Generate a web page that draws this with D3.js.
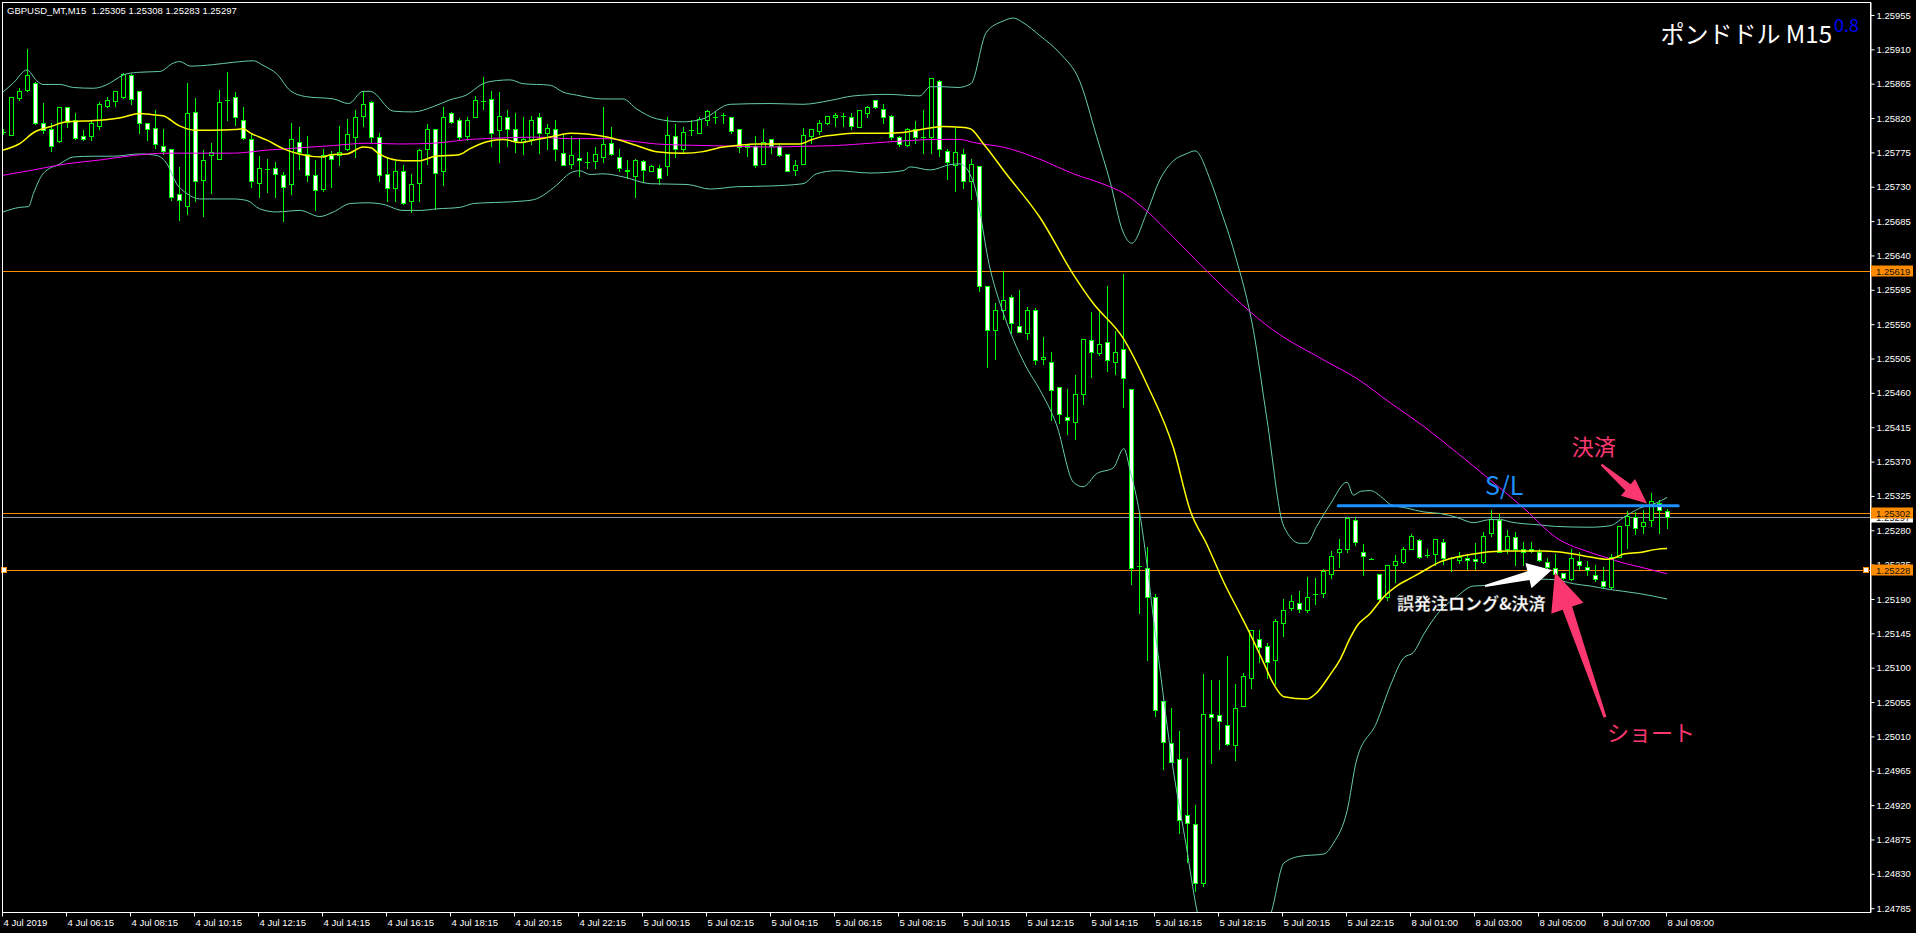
<!DOCTYPE html>
<html><head><meta charset="utf-8">
<script src="https://cdn.jsdelivr.net/npm/d3@7"></script>
<style>html,body{margin:0;padding:0;background:#000;overflow:hidden}</style>
</head><body>
<svg id="c" width="1916" height="933"></svg>
<script>
// ---------------- DATA ----------------
const symbolHeader = "GBPUSD_MT,M15  1.25305 1.25308 1.25283 1.25297";
const chartTitle = "ポンドドル M15";
const titleSup = "0.8";

const timeLabels = ["4 Jul 2019","4 Jul 06:15","4 Jul 08:15","4 Jul 10:15","4 Jul 12:15","4 Jul 14:15","4 Jul 16:15","4 Jul 18:15","4 Jul 20:15","4 Jul 22:15",
  "5 Jul 00:15","5 Jul 02:15","5 Jul 04:15","5 Jul 06:15","5 Jul 08:15","5 Jul 10:15","5 Jul 12:15","5 Jul 14:15","5 Jul 16:15","5 Jul 18:15","5 Jul 20:15","5 Jul 22:15",
  "8 Jul 01:00","8 Jul 03:00","8 Jul 05:00","8 Jul 07:00","8 Jul 09:00"];
const labelBars = [0,8,16,24,32,40,48,56,64,72,80,88,96,104,112,120,128,136,144,152,160,168,176,184,192,200,208];

const priceTicks = [1.24785,1.24830,1.24875,1.24920,1.24965,1.25010,1.25055,1.25100,1.25145,1.25190,1.25235,1.25280,1.25325,1.25370,
  1.25415,1.25460,1.25505,1.25550,1.25595,1.25640,1.25685,1.25730,1.25775,1.25820,1.25865,1.25910,1.25955];

const open = [
1.25802,1.25798,1.25846,1.25857,1.25866,1.25814,1.25805,1.25790,1.25834,1.25818,
1.25796,1.25797,1.25809,1.25836,1.25842,1.25848,1.25877,1.25856,1.25813,1.25807,
1.25784,1.25779,1.25720,1.25705,1.25828,1.25739,1.25771,1.25767,1.25844,1.25847,
1.25818,1.25792,1.25735,1.25753,1.25754,1.25745,1.25733,1.25789,1.25773,1.25745,
1.25727,1.25772,1.25772,1.25779,1.25795,1.25823,1.25841,1.25795,1.25747,1.25729,
1.25750,1.25711,1.25735,1.25779,1.25806,1.25750,1.25826,1.25817,1.25797,1.25821,
1.25842,1.25845,1.25804,1.25822,1.25805,1.25789,1.25792,1.25821,1.25801,1.25806,
1.25774,1.25760,1.25768,1.25763,1.25764,1.25769,1.25787,1.25769,1.25752,1.25744,
1.25764,1.25751,1.25754,1.25757,1.25797,1.25779,1.25804,1.25800,1.25818,1.25821,
1.25824,1.25821,1.25805,1.25782,1.25784,1.25760,1.25792,1.25784,1.25773,1.25752,
1.25760,1.25796,1.25803,1.25813,1.25821,1.25823,1.25822,1.25808,1.25827,1.25843,
1.25832,1.25823,1.25795,1.25785,1.25805,1.25795,1.25795,1.25869,1.25777,1.25758,
1.25773,1.25737,1.25757,1.25600,1.25543,1.25569,1.25585,1.25547,1.25538,1.25569,
1.25504,1.25501,1.25468,1.25429,1.25422,1.25458,1.25529,1.25512,1.25527,1.25501,
1.25518,1.25465,1.25233,1.25231,1.25192,1.25056,1.25002,1.24980,1.24907,1.24895,
1.24818,1.25040,1.25038,1.25025,1.24999,1.25050,1.25086,1.25137,1.25129,1.25110,
1.25159,1.25178,1.25185,1.25176,1.25197,1.25198,1.25223,1.25252,1.25255,1.25294,
1.25251,1.25243,1.25223,1.25192,1.25235,1.25239,1.25256,1.25267,1.25247,1.25249,
1.25265,1.25244,1.25241,1.25244,1.25243,1.25239,1.25276,1.25294,1.25255,1.25271,
1.25256,1.25255,1.25252,1.25239,1.25230,1.25224,1.25216,1.25240,1.25232,1.25222,
1.25213,1.25206,1.25245,1.25287,1.25297,1.25285,1.25294,1.25316,1.25305];
const high = [
1.25805,1.25848,1.25860,1.25910,1.25867,1.25840,1.25814,1.25835,1.25835,1.25826,
1.25804,1.25818,1.25841,1.25848,1.25856,1.25879,1.25878,1.25856,1.25813,1.25830,
1.25805,1.25779,1.25756,1.25866,1.25846,1.25778,1.25787,1.25857,1.25880,1.25854,
1.25834,1.25800,1.25770,1.25767,1.25762,1.25749,1.25813,1.25808,1.25797,1.25765,
1.25780,1.25777,1.25810,1.25819,1.25830,1.25855,1.25842,1.25801,1.25769,1.25766,
1.25759,1.25747,1.25780,1.25812,1.25806,1.25835,1.25828,1.25820,1.25821,1.25849,
1.25874,1.25856,1.25854,1.25830,1.25826,1.25822,1.25823,1.25826,1.25812,1.25818,
1.25798,1.25797,1.25794,1.25775,1.25782,1.25834,1.25808,1.25779,1.25765,1.25767,
1.25765,1.25758,1.25758,1.25822,1.25812,1.25808,1.25818,1.25822,1.25830,1.25829,
1.25826,1.25822,1.25806,1.25785,1.25796,1.25806,1.25792,1.25787,1.25773,1.25765,
1.25807,1.25805,1.25818,1.25823,1.25827,1.25827,1.25826,1.25830,1.25836,1.25844,
1.25839,1.25824,1.25796,1.25807,1.25816,1.25830,1.25873,1.25870,1.25780,1.25807,
1.25779,1.25767,1.25757,1.25600,1.25578,1.25620,1.25588,1.25595,1.25572,1.25571,
1.25533,1.25514,1.25468,1.25465,1.25483,1.25531,1.25566,1.25566,1.25600,1.25541,
1.25616,1.25465,1.25301,1.25258,1.25196,1.25056,1.25047,1.25017,1.24982,1.24920,
1.25092,1.25084,1.25084,1.25115,1.25079,1.25093,1.25150,1.25150,1.25132,1.25164,
1.25190,1.25195,1.25200,1.25219,1.25218,1.25229,1.25253,1.25268,1.25297,1.25297,
1.25262,1.25244,1.25223,1.25234,1.25248,1.25258,1.25275,1.25268,1.25256,1.25269,
1.25268,1.25245,1.25251,1.25249,1.25263,1.25278,1.25306,1.25301,1.25280,1.25278,
1.25265,1.25265,1.25256,1.25244,1.25249,1.25224,1.25256,1.25251,1.25240,1.25235,
1.25232,1.25249,1.25286,1.25305,1.25304,1.25307,1.25329,1.25320,1.25308];
const low = [
1.25799,1.25798,1.25843,1.25856,1.25812,1.25800,1.25777,1.25789,1.25808,1.25792,
1.25791,1.25791,1.25806,1.25835,1.25836,1.25846,1.25839,1.25800,1.25791,1.25781,
1.25773,1.25713,1.25687,1.25694,1.25711,1.25692,1.25722,1.25766,1.25818,1.25811,
1.25793,1.25730,1.25717,1.25723,1.25716,1.25685,1.25720,1.25753,1.25738,1.25699,
1.25724,1.25730,1.25758,1.25778,1.25769,1.25809,1.25789,1.25737,1.25711,1.25711,
1.25708,1.25697,1.25711,1.25760,1.25701,1.25732,1.25814,1.25791,1.25791,1.25821,
1.25832,1.25784,1.25763,1.25784,1.25775,1.25773,1.25786,1.25774,1.25779,1.25765,
1.25758,1.25755,1.25744,1.25754,1.25754,1.25762,1.25771,1.25750,1.25741,1.25716,
1.25736,1.25750,1.25733,1.25745,1.25769,1.25775,1.25798,1.25800,1.25811,1.25814,
1.25814,1.25801,1.25775,1.25770,1.25756,1.25760,1.25774,1.25770,1.25750,1.25746,
1.25760,1.25787,1.25799,1.25812,1.25810,1.25810,1.25805,1.25808,1.25822,1.25833,
1.25814,1.25793,1.25784,1.25784,1.25787,1.25774,1.25774,1.25770,1.25740,1.25724,
1.25729,1.25714,1.25594,1.25494,1.25504,1.25557,1.25538,1.25540,1.25530,1.25498,
1.25498,1.25424,1.25420,1.25406,1.25399,1.25446,1.25481,1.25509,1.25488,1.25485,
1.25441,1.25209,1.25172,1.25110,1.25037,1.24967,1.24977,1.24884,1.24845,1.24808,
1.24814,1.24975,1.24994,1.24999,1.24979,1.25050,1.25074,1.25108,1.25086,1.25079,
1.25142,1.25176,1.25173,1.25173,1.25183,1.25193,1.25218,1.25232,1.25252,1.25261,
1.25222,1.25242,1.25188,1.25189,1.25212,1.25237,1.25256,1.25244,1.25245,1.25234,
1.25236,1.25227,1.25237,1.25229,1.25229,1.25237,1.25273,1.25252,1.25250,1.25234,
1.25234,1.25251,1.25240,1.25228,1.25212,1.25216,1.25215,1.25229,1.25222,1.25213,
1.25205,1.25203,1.25245,1.25257,1.25275,1.25276,1.25286,1.25276,1.25283];
const close = [
1.25802,1.25847,1.25855,1.25876,1.25813,1.25804,1.25784,1.25834,1.25815,1.25794,
1.25792,1.25814,1.25839,1.25844,1.25855,1.25878,1.25845,1.25813,1.25805,1.25786,
1.25777,1.25717,1.25713,1.25826,1.25737,1.25765,1.25776,1.25841,1.25844,1.25821,
1.25794,1.25738,1.25754,1.25753,1.25747,1.25730,1.25792,1.25775,1.25745,1.25726,
1.25771,1.25766,1.25776,1.25799,1.25822,1.25839,1.25795,1.25745,1.25729,1.25750,
1.25709,1.25734,1.25778,1.25805,1.25748,1.25821,1.25815,1.25795,1.25818,1.25843,
1.25842,1.25800,1.25823,1.25805,1.25790,1.25793,1.25818,1.25801,1.25807,1.25779,
1.25758,1.25771,1.25765,1.25763,1.25773,1.25786,1.25773,1.25754,1.25750,1.25765,
1.25752,1.25757,1.25741,1.25798,1.25779,1.25802,1.25804,1.25819,1.25829,1.25821,
1.25824,1.25803,1.25782,1.25785,1.25758,1.25789,1.25784,1.25772,1.25751,1.25759,
1.25798,1.25805,1.25814,1.25823,1.25824,1.25823,1.25810,1.25830,1.25834,1.25834,
1.25821,1.25795,1.25786,1.25805,1.25795,1.25795,1.25873,1.25780,1.25763,1.25775,
1.25737,1.25760,1.25600,1.25543,1.25569,1.25581,1.25551,1.25540,1.25569,1.25503,
1.25507,1.25464,1.25432,1.25424,1.25459,1.25531,1.25514,1.25524,1.25503,1.25514,
1.25479,1.25231,1.25233,1.25193,1.25045,1.25003,1.24977,1.24901,1.24897,1.24818,
1.25039,1.25035,1.25030,1.25000,1.25047,1.25089,1.25149,1.25127,1.25108,1.25161,
1.25176,1.25187,1.25177,1.25193,1.25197,1.25227,1.25246,1.25256,1.25296,1.25265,
1.25246,1.25243,1.25190,1.25234,1.25240,1.25256,1.25273,1.25245,1.25247,1.25268,
1.25244,1.25244,1.25245,1.25241,1.25240,1.25272,1.25295,1.25252,1.25273,1.25255,
1.25252,1.25253,1.25241,1.25232,1.25223,1.25218,1.25244,1.25235,1.25228,1.25216,
1.25207,1.25245,1.25286,1.25299,1.25283,1.25291,1.25318,1.25307,1.25297];

// indicator lines: [bar index, price]
const maFast = [[0,1.25778],[2,1.25786],[4,1.25802],[6,1.25809],[8,1.25815],[10,1.25816],[12,1.25817],[15,1.25821],[17,1.25826],[19,1.25824],[20,1.25823],[22,1.25810],[24,1.25804],[26,1.25804],[29,1.25805],[30,1.25806],[31,1.25800],[33,1.25791],[35,1.25780],[37,1.25773],[40,1.25769],[41,1.25772],[43,1.25773],[45,1.25782],[46,1.25781],[47,1.25773],[50,1.25764],[52,1.25764],[54,1.25770],[57,1.25772],[58.4,1.25780],[60.5,1.25789],[62.5,1.25792],[64.6,1.25788],[66.7,1.25792],[68.8,1.25796],[70.9,1.25800],[73,1.25799],[75,1.25796],[77.1,1.25791],[79.2,1.25784],[81.7,1.25776],[85,1.25774],[87.5,1.25776],[90,1.25782],[91.7,1.25784],[94.2,1.25786],[98,1.25786],[99.6,1.25786],[100.9,1.25791],[102.5,1.25796],[104.2,1.25798],[106.3,1.25800],[108.4,1.25800],[110.5,1.25800],[112.5,1.25801],[114.2,1.25804],[115.9,1.25807],[117.5,1.25809],[119.6,1.25808],[120.9,1.25806],[122.5,1.25787],[125.4,1.25747],[129.6,1.25690],[133.8,1.25615],[136.3,1.25577],[140,1.25532],[143,1.25471],[146.3,1.25388],[148.4,1.25306],[150.5,1.25261],[152.6,1.25212],[154.7,1.25169],[155.9,1.25144],[157.6,1.25106],[158.8,1.25079],[160.1,1.25062],[163,1.25059],[164.2,1.25067],[165.9,1.25091],[167.1,1.25110],[168.4,1.25139],[169.2,1.25154],[170.9,1.25171],[172.6,1.25193],[174.2,1.25207],[175.9,1.25217],[177.6,1.25227],[179.7,1.25239],[181.7,1.25245],[183.8,1.25249],[185.9,1.25252],[188,1.25253],[190.1,1.25253],[192.6,1.25253],[194.2,1.25252],[196.3,1.25249],[198.4,1.25245],[200.5,1.25242],[201.7,1.25245],[202.6,1.25249],[204.6,1.25251],[206.7,1.25255],[208,1.25256]];
const maSlow = [[0,1.25745],[3.8,1.25752],[7.9,1.25760],[12.1,1.25765],[16.3,1.25771],[20.5,1.25774],[24.6,1.25774],[28.8,1.25774],[33,1.25778],[37.1,1.25781],[41.3,1.25784],[45.5,1.25787],[49.6,1.25786],[53.8,1.25787],[58.4,1.25792],[62.5,1.25794],[66.7,1.25795],[70.9,1.25793],[75,1.25793],[79.2,1.25789],[81.7,1.25786],[87.5,1.25784],[91.7,1.25783],[95.9,1.25782],[100,1.25783],[104.2,1.25784],[108.4,1.25787],[112.5,1.25790],[116.7,1.25792],[119.6,1.25792],[121.3,1.25788],[125.4,1.25781],[129.6,1.25766],[133.8,1.25747],[137.9,1.25732],[140,1.25722],[143,1.25698],[146.3,1.25664],[150.9,1.25615],[158.8,1.25542],[165.1,1.25503],[169.2,1.25479],[173.4,1.25447],[177.6,1.25416],[181.7,1.25382],[185.9,1.25346],[190.1,1.25309],[194.2,1.25270],[198.4,1.25251],[200.5,1.25244],[202.6,1.25237],[204.6,1.25232],[208,1.25223]];
const bbUpper = [[0,1.25854],[1.3,1.25866],[3,1.25883],[4.2,1.25869],[5,1.25864],[7.1,1.25864],[8.8,1.25860],[11.3,1.25859],[13.4,1.25866],[14.6,1.25874],[15.5,1.25878],[17.1,1.25880],[19.6,1.25881],[21.3,1.25892],[22.1,1.25894],[23.4,1.25888],[26.3,1.25890],[28.8,1.25893],[31.3,1.25895],[32.5,1.25889],[34.2,1.25878],[35.9,1.25856],[37.9,1.25848],[41.3,1.25845],[43.2,1.25839],[45,1.25855],[45.9,1.25855],[48.8,1.25829],[51.3,1.25828],[53.8,1.25835],[55.9,1.25844],[57.9,1.25850],[60,1.25865],[61.7,1.25869],[63.4,1.25870],[65,1.25865],[68.4,1.25863],[70,1.25854],[71.7,1.25850],[75,1.25845],[77.5,1.25845],[79.2,1.25832],[81.7,1.25819],[85,1.25815],[87.5,1.25819],[90.9,1.25838],[95.9,1.25839],[100,1.25838],[103.4,1.25843],[106.3,1.25849],[110.5,1.25851],[114.6,1.25849],[115.9,1.25861],[117.5,1.25861],[119.4,1.25860],[121,1.25865],[122.9,1.25932],[125,1.25947],[126.3,1.25951],[127.5,1.25945],[129.6,1.25928],[132.1,1.25905],[134.6,1.25868],[136.7,1.25796],[138.4,1.25736],[140,1.25671],[141.1,1.25656],[142.9,1.25694],[144.6,1.25739],[146.3,1.25764],[147.9,1.25773],[149,1.25777],[150.9,1.25739],[152,1.25706],[154,1.25641],[156.3,1.25542],[158,1.25425],[160.1,1.25285],[162.1,1.25263],[163,1.25263],[164.2,1.25285],[165.9,1.25314],[168,1.25343],[168.8,1.25326],[169.7,1.25331],[170.9,1.25332],[172.6,1.25321],[173.4,1.25314],[175.5,1.25309],[177.6,1.25304],[179.7,1.25302],[181.7,1.25297],[183.8,1.25290],[185.9,1.25294],[187.2,1.25294],[188.4,1.25291],[192.1,1.25287],[194.2,1.25285],[198.4,1.25284],[200.9,1.25286],[202.6,1.25297],[204.6,1.25309],[206.7,1.25316],[208,1.25323]];
const bbLower = [[0,1.25697],[2.1,1.25703],[3.2,1.25704],[3.8,1.25721],[5,1.25747],[7.1,1.25760],[8.8,1.25769],[11.3,1.25770],[13.8,1.25770],[17.1,1.25773],[19.2,1.25771],[20.5,1.25760],[21.7,1.25734],[23,1.25721],[24.6,1.25714],[28.8,1.25714],[30.5,1.25712],[32.1,1.25701],[34.2,1.25697],[37.1,1.25699],[39.6,1.25691],[41.3,1.25697],[43.4,1.25708],[45.5,1.25709],[47.5,1.25707],[50,1.25699],[52.1,1.25699],[54.2,1.25701],[57.1,1.25703],[58.8,1.25708],[60.5,1.25709],[64.6,1.25711],[66.3,1.25713],[69.2,1.25732],[70.9,1.25748],[72.1,1.25751],[73.4,1.25746],[75,1.25747],[77.5,1.25743],[80.9,1.25734],[85.5,1.25733],[88.4,1.25727],[91.7,1.25730],[95.9,1.25731],[100,1.25734],[101.7,1.25747],[104.2,1.25751],[108.4,1.25748],[112.5,1.25751],[113.4,1.25756],[115.9,1.25752],[118.4,1.25759],[119.6,1.25760],[121.3,1.25736],[123.4,1.25622],[125.4,1.25554],[127.9,1.25494],[129.6,1.25464],[131.7,1.25418],[133.8,1.25343],[135,1.25337],[136.7,1.25354],[138.8,1.25362],[140.1,1.25387],[140.9,1.25358],[142.1,1.25301],[144.2,1.25132],[146.3,1.24965],[147.9,1.24867],[149.2,1.24784],[151,1.24720],[154,1.24700],[157,1.24740],[158.6,1.24782],[160.1,1.24844],[162.1,1.24853],[165.1,1.24856],[166.3,1.24870],[168,1.24912],[169.2,1.24979],[171.7,1.25028],[173.4,1.25076],[175.1,1.25113],[176.3,1.25120],[177.6,1.25144],[179.2,1.25169],[181.7,1.25193],[183.8,1.25207],[185.9,1.25208],[188,1.25212],[192.1,1.25216],[194.2,1.25215],[196.3,1.25210],[198.4,1.25207],[200.5,1.25203],[202.6,1.25200],[204.6,1.25197],[208,1.25190]];

const levelPrices = [1.25619, 1.25302, 1.25228];   // orange horizontal lines
const bidPrice = 1.25297;                          // grey bid line
const slPrice = 1.25312, slFromBar = 166.9, slToBar = 209.4;

// annotations anchored in [bar, price]
const annoTexts = [
  {text:"S/L", at:[185.25,1.25326]},
  {text:"決済", at:[196.1,1.25378]},
  {text:"ショート", at:[200.5,1.25004]},
  {text:"誤発注ロング&決済", at:[174.25,1.25176]}
];
const annoArrows = [
  {tail:[185.25,1.25207], tip:[193.6,1.25228]},
  {tail:[200.25,1.25035], tip:[194.0,1.25225]},
  {tail:[199.8,1.25366], tip:[205.5,1.25315]}
];

// ---------------- DRAW ----------------
const W = 1916, H = 933;
const svg = d3.select('#c');
svg.append('rect').attr('width', W).attr('height', H).attr('fill', '#000');

const x = d3.scaleLinear().domain([0, 208]).range([3, 1667]);
const y = d3.scaleLinear().domain([1.24780, 1.25972]).range([912, 2]);

svg.append('defs').append('clipPath').attr('id', 'plot')
  .append('rect').attr('x', 3).attr('y', 3).attr('width', 1867).attr('height', 909);

const plot = svg.append('g').attr('clip-path', 'url(#plot)');

// horizontal level lines
plot.append('line').attr('x1', 0).attr('x2', 1871)
  .attr('y1', Math.round(y(bidPrice)) + 0.5).attr('y2', Math.round(y(bidPrice)) + 0.5)
  .attr('stroke', '#8795a3').attr('stroke-width', 1);
plot.selectAll('.lvl').data(levelPrices).join('line').attr('class', 'lvl')
  .attr('x1', 0).attr('x2', 1871)
  .attr('y1', d => Math.round(y(d)) + 0.5).attr('y2', d => Math.round(y(d)) + 0.5)
  .attr('stroke', '#ff8c00').attr('stroke-width', 1);

// candles
const bars = d3.range(open.length).map(i => ({i, o: open[i], h: high[i], l: low[i], c: close[i]}));
const cg = plot.append('g');
cg.selectAll('.wick').data(bars).join('line').attr('class', 'wick')
  .attr('x1', d => Math.round(x(d.i)) + 0.5).attr('x2', d => Math.round(x(d.i)) + 0.5)
  .attr('y1', d => Math.round(y(d.h))).attr('y2', d => Math.round(y(d.l)) + 1)
  .attr('stroke', '#00ff00').attr('stroke-width', 1);
bars.forEach(d => {
  const cx = Math.round(x(d.i));
  const t = Math.round(y(Math.max(d.o, d.c))) + 0.5;
  const b = Math.round(y(Math.min(d.o, d.c))) + 0.5;
  if (b - t < 1) {
    cg.append('line').attr('x1', cx - 2).attr('x2', cx + 3).attr('y1', t).attr('y2', t)
      .attr('stroke', '#00ff00').attr('stroke-width', 1);
  } else {
    cg.append('rect').attr('x', cx - 1.5).attr('y', t).attr('width', 4).attr('height', b - t)
      .attr('fill', d.c > d.o ? '#000' : '#fff').attr('stroke', '#00ff00').attr('stroke-width', 1);
  }
});

// indicator lines
const line = d3.line().x(d => x(d[0])).y(d => y(d[1])).curve(d3.curveMonotoneX);
plot.append('path').datum(bbUpper).attr('d', line).attr('fill', 'none').attr('stroke', '#66cdaa').attr('stroke-width', 1);
plot.append('path').datum(bbLower).attr('d', line).attr('fill', 'none').attr('stroke', '#66cdaa').attr('stroke-width', 1);
plot.append('path').datum(maSlow).attr('d', line).attr('fill', 'none').attr('stroke', '#ff00ff').attr('stroke-width', 1);
plot.append('path').datum(maFast).attr('d', line).attr('fill', 'none').attr('stroke', '#ffff00').attr('stroke-width', 1.5);

// level markers (small squares)
[4, 1866].forEach(px => {
  svg.append('rect').attr('x', px - 2.5).attr('y', Math.round(y(levelPrices[2])) - 2.5)
    .attr('width', 5).attr('height', 5).attr('fill', '#fff').attr('stroke', '#ff8c00');
});

// S/L line
svg.append('line').attr('x1', x(slFromBar)).attr('x2', x(slToBar))
  .attr('y1', y(slPrice)).attr('y2', y(slPrice))
  .attr('stroke', '#1e90ff').attr('stroke-width', 3).attr('stroke-linecap', 'round');

// frame
svg.append('rect').attr('x', 2.5).attr('y', 2.5).attr('width', 1868).attr('height', 910)
  .attr('fill', 'none').attr('stroke', '#fff').attr('stroke-width', 1);

// right price axis
const axisFont = "'Liberation Sans', Arial, sans-serif";
const ya = svg.append('g').attr('transform', 'translate(1870.5,0)')
  .call(d3.axisRight(y).tickValues(priceTicks).tickFormat(d3.format('.5f')).tickSize(4).tickSizeOuter(0).tickPadding(2));
ya.select('.domain').attr('stroke', '#fff');
ya.selectAll('.tick line').attr('stroke', '#fff');
ya.selectAll('.tick text').attr('fill', '#fff').attr('font-size', '9.5px').attr('font-family', axisFont);

// price labels for lines
function priceBox(p, bg, fg) {
  const cy = Math.round(y(p));
  svg.append('rect').attr('x', 1871).attr('y', cy - 5.5).attr('width', 42).attr('height', 11).attr('fill', bg);
  svg.append('text').attr('x', 1876).attr('y', cy + 3.5).attr('fill', fg)
    .attr('font-size', '9.5px').attr('font-family', axisFont).text(d3.format('.5f')(p));
}
priceBox(bidPrice, '#ffffff', '#222');
levelPrices.forEach(p => priceBox(p, '#ff8c00', '#111'));

// bottom time axis
const xa = svg.append('g').attr('transform', 'translate(-1,912.5)')
  .call(d3.axisBottom(x).tickValues(labelBars).tickFormat((d, k) => timeLabels[k]).tickSize(4).tickSizeOuter(0));
xa.select('.domain').remove();
xa.selectAll('.tick line').attr('stroke', '#fff');
xa.selectAll('.tick text').attr('fill', '#fff').attr('font-size', '9.5px').attr('font-family', axisFont)
  .attr('text-anchor', 'start').attr('dx', '1px');

// header
svg.append('text').attr('x', 7).attr('y', 14).attr('fill', '#fff').attr('font-size', '9.5px')
  .attr('font-family', axisFont).attr('xml:space', 'preserve').style('white-space', 'pre').text(symbolHeader);

// title
const cjk = "'Noto Sans CJK JP', 'Noto Sans', sans-serif";
svg.append('text').attr('x', 1832).attr('y', 43).attr('text-anchor', 'end').attr('fill', '#fff')
  .attr('font-size', '24px').attr('font-family', cjk).text(chartTitle);
svg.append('text').attr('x', 1834).attr('y', 32).attr('fill', '#0000ff')
  .attr('font-size', '18px').attr('font-family', cjk).text(titleSup);

// annotation arrows
function arrowPts(tail, tip, headLen, headHalf, w0, w1) {
  const dx = tip[0] - tail[0], dy = tip[1] - tail[1], L = Math.hypot(dx, dy);
  const ux = dx / L, uy = dy / L, px = -uy, py = ux;
  const bx = tip[0] - ux * headLen, by = tip[1] - uy * headLen;
  return [[tail[0] + px * w0, tail[1] + py * w0], [bx + px * w1, by + py * w1], [bx + px * headHalf, by + py * headHalf],
    tip, [bx - px * headHalf, by - py * headHalf], [bx - px * w1, by - py * w1], [tail[0] - px * w0, tail[1] - py * w0]];
}
const arrowStyle = [
  {fill: '#ffffff', head: 24, half: 13, w0: 1, w1: 4.5},
  {fill: '#fb3770', head: 38, half: 17, w0: 1.5, w1: 5},
  {fill: '#fb3770', head: 25, half: 11, w0: 1, w1: 4}
];
annoArrows.forEach((a, k) => {
  const s = arrowStyle[k];
  const pts = arrowPts([x(a.tail[0]), y(a.tail[1])], [x(a.tip[0]), y(a.tip[1])], s.head, s.half, s.w0, s.w1);
  svg.append('polygon').attr('points', pts.map(p => p.join(',')).join(' ')).attr('fill', s.fill);
});

// annotation texts
const textStyle = [
  {fill: '#1e90ff', size: 25, weight: 'normal'},
  {fill: '#fb3770', size: 22, weight: 'normal'},
  {fill: '#fb3770', size: 22, weight: 'normal'},
  {fill: '#ffffff', size: 17, weight: 'bold'}
];
annoTexts.forEach((t, k) => {
  const s = textStyle[k];
  svg.append('text').attr('x', x(t.at[0])).attr('y', y(t.at[1])).attr('fill', s.fill)
    .attr('font-size', s.size + 'px').attr('font-weight', s.weight).attr('font-family', cjk)
    .attr('stroke', k === 3 ? '#333' : 'none').attr('stroke-width', k === 3 ? 0.3 : 0)
    .text(t.text);
});
</script>
</body></html>
